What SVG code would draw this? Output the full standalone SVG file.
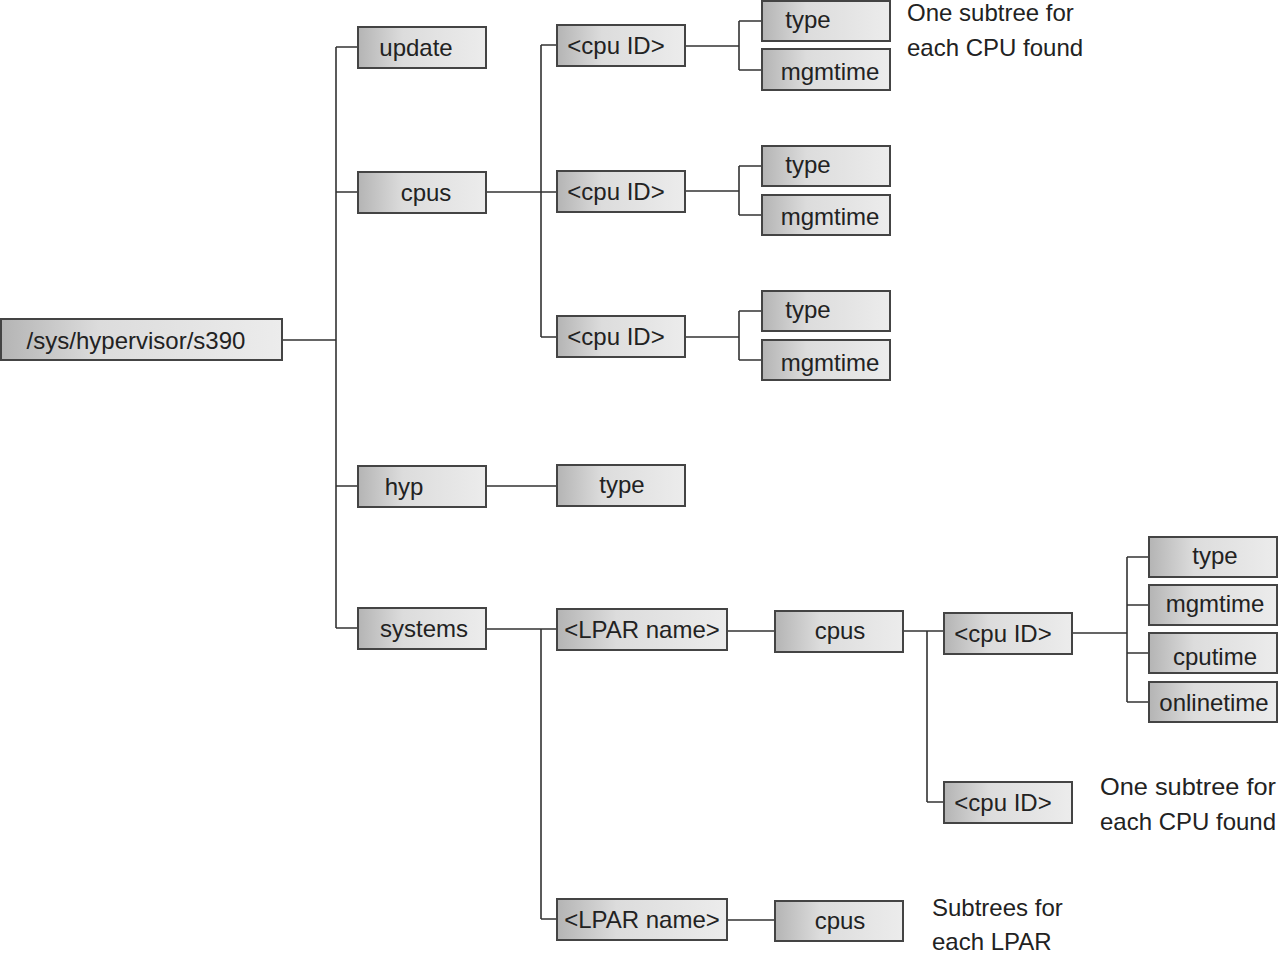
<svg xmlns="http://www.w3.org/2000/svg" width="1280" height="953" viewBox="0 0 1280 953">
<defs><linearGradient id="g" x1="0" y1="0" x2="1" y2="0"><stop offset="0" stop-color="#b4b4b4"/><stop offset="0.35" stop-color="#dcdcdc"/><stop offset="1" stop-color="#ececec"/></linearGradient></defs>
<style>
.b rect{fill:url(#g);stroke:#444;stroke-width:2}
.b text{font-family:"Liberation Sans",sans-serif;font-size:24px;fill:#222;text-anchor:middle}
.n{font-family:"Liberation Sans",sans-serif;font-size:24px;fill:#222}
#c path{fill:none;stroke:#333;stroke-width:1.6}
</style>
<rect width="1280" height="953" fill="#fff"/>
<g id="c"><path d="M282 340H336M336 47V628M336 47H358M336 192H358M336 486H358M336 628H358
M486 192H557M541 45V337M541 45H557M541 337H557
M685 46H739M739 21V70M739 21H762M739 70H762
M685 191H739M739 166V215M739 166H762M739 215H762
M685 337H739M739 311V360M739 311H762M739 360H762
M486 486H557
M486 629H557M541 629V919M541 919H557
M727 631H775M727 920H775
M903 631H944M927 631V802M927 802H944
M1072 633H1127M1127 557V702M1127 557H1149M1127 605H1149M1127 653H1149M1127 702H1149"/></g>
<g id="root" class="b"><rect x="1" y="319" width="281" height="41"/><text x="136" y="349">/sys/hypervisor/s390</text></g>
<g id="update" class="b"><rect x="358" y="27" width="128" height="41"/><text x="416" y="56">update</text></g>
<g id="cpus" class="b"><rect x="358" y="172" width="128" height="41"/><text x="426" y="201">cpus</text></g>
<g id="hyp" class="b"><rect x="358" y="466" width="128" height="41"/><text x="404" y="495">hyp</text></g>
<g id="systems" class="b"><rect x="358" y="608" width="128" height="41"/><text x="424" y="637">systems</text></g>
<g id="cpuid1" class="b"><rect x="557" y="25" width="128" height="41"/><text x="616" y="54">&lt;cpu ID&gt;</text></g>
<g id="cpuid2" class="b"><rect x="557" y="171" width="128" height="41"/><text x="616" y="200">&lt;cpu ID&gt;</text></g>
<g id="cpuid3" class="b"><rect x="557" y="316" width="128" height="41"/><text x="616" y="345">&lt;cpu ID&gt;</text></g>
<g id="type1" class="b"><rect x="762" y="1" width="128" height="40"/><text x="808" y="28">type</text></g>
<g id="mgm1" class="b"><rect x="762" y="49" width="128" height="41"/><text x="830" y="80">mgmtime</text></g>
<g id="type2" class="b"><rect x="762" y="146" width="128" height="40"/><text x="808" y="173">type</text></g>
<g id="mgm2" class="b"><rect x="762" y="195" width="128" height="40"/><text x="830" y="225">mgmtime</text></g>
<g id="type3" class="b"><rect x="762" y="291" width="128" height="40"/><text x="808" y="318">type</text></g>
<g id="mgm3" class="b"><rect x="762" y="340" width="128" height="40"/><text x="830" y="371">mgmtime</text></g>
<g id="hyptype" class="b"><rect x="557" y="465" width="128" height="41"/><text x="622" y="493">type</text></g>
<g id="lpar1" class="b"><rect x="557" y="609" width="170" height="41"/><text x="642" y="638">&lt;LPAR name&gt;</text></g>
<g id="lpar2" class="b"><rect x="557" y="899" width="170" height="41"/><text x="642" y="928">&lt;LPAR name&gt;</text></g>
<g id="scpus1" class="b"><rect x="775" y="611" width="128" height="41"/><text x="840" y="639">cpus</text></g>
<g id="scpus2" class="b"><rect x="775" y="901" width="128" height="40"/><text x="840" y="929">cpus</text></g>
<g id="scpu1" class="b"><rect x="944" y="613" width="128" height="41"/><text x="1003" y="642">&lt;cpu ID&gt;</text></g>
<g id="scpu2" class="b"><rect x="944" y="782" width="128" height="41"/><text x="1003" y="811">&lt;cpu ID&gt;</text></g>
<g id="stype" class="b"><rect x="1149" y="537" width="128" height="40"/><text x="1215" y="564">type</text></g>
<g id="smgm" class="b"><rect x="1149" y="585" width="128" height="40"/><text x="1215" y="612">mgmtime</text></g>
<g id="scput" class="b"><rect x="1149" y="633" width="128" height="40"/><text x="1215" y="665">cputime</text></g>
<g id="sonl" class="b"><rect x="1149" y="682" width="128" height="40"/><text x="1214" y="711">onlinetime</text></g>
<text class="n" x="907" y="21">One subtree for</text>
<text class="n" x="907" y="56">each CPU found</text>
<text class="n" x="1100" y="795" textLength="176" lengthAdjust="spacingAndGlyphs">One subtree for</text>
<text class="n" x="1100" y="830" textLength="176" lengthAdjust="spacingAndGlyphs">each CPU found</text>
<text class="n" x="932" y="916">Subtrees for</text>
<text class="n" x="932" y="950">each LPAR</text>
</svg>
